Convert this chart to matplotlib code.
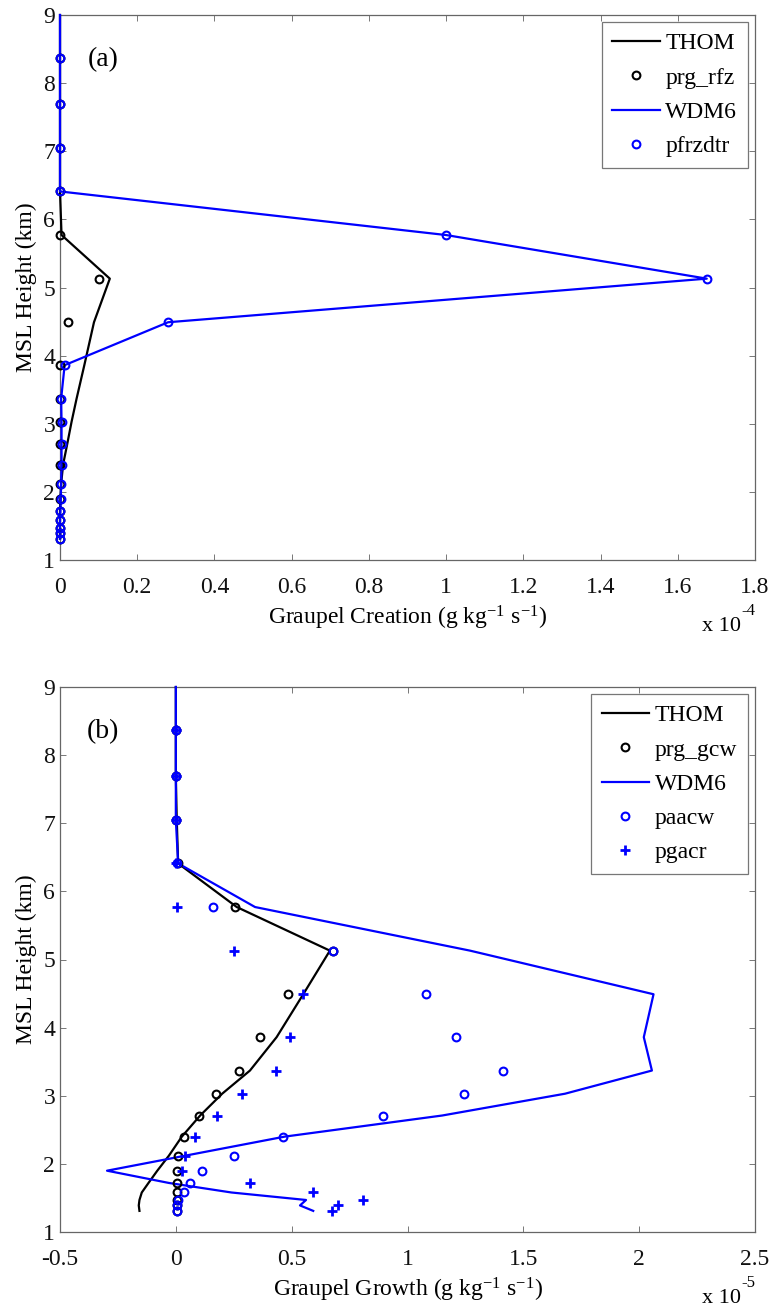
import numpy as np
import matplotlib
matplotlib.use('Agg')
import matplotlib.pyplot as plt

plt.rcParams['font.family'] = 'Liberation Serif'
plt.rcParams['mathtext.fontset'] = 'custom'
plt.rcParams['mathtext.rm'] = 'Liberation Serif'
plt.rcParams['mathtext.it'] = 'Liberation Serif:italic'
plt.rcParams['mathtext.bf'] = 'Liberation Serif:bold'
plt.rcParams['mathtext.default'] = 'rm'

# model levels (km MSL), bottom to top
heights = [1.31, 1.39, 1.47, 1.58, 1.72, 1.90, 2.12, 2.40, 2.71, 3.03,
           3.37, 3.86, 4.49, 5.13, 5.77, 6.41, 7.05, 7.70, 8.37, 9.00]

# (a) graupel creation, x 1e-4 g/kg/s
thom_a = [0, 0, 0, 0, 0, 0.001, 0.003, 0.008, 0.019, 0.030,
          0.043, 0.063, 0.088, 0.129, 0.004, 0, 0, 0, 0, 0]
prg_rfz = [0, 0, 0, 0, 0, 0, 0, 0, 0, 0,
           0, 0, 0.021, 0.100, 0, 0, 0, 0, 0, 0]
wdm6_a = [0, 0, 0, 0, 0.001, 0.002, 0.003, 0.004, 0.004, 0.004,
          0.003, 0.012, 0.280, 1.675, 1.000, 0, 0, 0, 0, 0]
pfrzdtr = [0, 0, 0, 0, 0.001, 0.002, 0.003, 0.004, 0.004, 0.004,
           0.003, 0.012, 0.280, 1.675, 1.000, 0, 0, 0, 0, 0]

# (b) graupel growth, x 1e-5 g/kg/s
thom_b = [-0.157, -0.160, -0.157, -0.147, -0.118, -0.080, -0.030, 0.026, 0.105, 0.200,
          0.320, 0.435, 0.550, 0.665, 0.263, 0.010, 0.004, 0, 0, 0]
prg_gcw = [0.005, 0.005, 0.005, 0.003, 0.003, 0.003, 0.010, 0.036, 0.100, 0.172,
           0.273, 0.363, 0.486, 0.680, 0.256, 0.010, 0, 0, 0, 0]
wdm6_b = [0.593, 0.536, 0.562, 0.240, -0.030, -0.297, 0.040, 0.470, 1.150, 1.680,
          2.055, 2.020, 2.062, 1.270, 0.342, 0.010, 0, 0, 0, 0]
paacw = [0.005, 0.005, 0.011, 0.036, 0.062, 0.112, 0.249, 0.464, 0.895, 1.246,
         1.414, 1.210, 1.079, 0.680, 0.162, 0.005, 0, 0, 0, 0]
pgacr = [0.675, 0.700, 0.809, 0.593, 0.320, 0.026, 0.040, 0.083, 0.177, 0.284,
         0.431, 0.491, 0.550, 0.249, 0.004, 0, 0, 0, 0, 0]

xticks_a = [0, 0.2, 0.4, 0.6, 0.8, 1.0, 1.2, 1.4, 1.6, 1.8]
xticklabels_a = ['0', '0.2', '0.4', '0.6', '0.8', '1', '1.2', '1.4', '1.6', '1.8']
xticks_b = [-0.5, 0, 0.5, 1.0, 1.5, 2.0, 2.5]
xticklabels_b = ['-0.5', '0', '0.5', '1', '1.5', '2', '2.5']
yticks = [1, 2, 3, 4, 5, 6, 7, 8, 9]

z = np.array(heights)
inside = z < 9  # no markers on the top boundary level

FS = 17
W, H = 774, 1310
fig = plt.figure(figsize=(W / 100, H / 100), dpi=100)
ax_a = fig.add_axes([60 / W, 1 - 560 / H, 695 / W, 545 / H])
ax_b = fig.add_axes([60 / W, 1 - 1232 / H, 695 / W, 545 / H])


def circles(ax, x, color, label):
    x = np.array(x)
    ax.plot(x[inside], z[inside], ls='none', marker='o', ms=5.6, mew=1.5,
            mfc='none', mec=color, label=label, clip_on=False, zorder=4)


def style_axes(ax, xlim, xt, xtl, xlabel, panel, power):
    ax.set_xlim(xlim)
    ax.set_ylim(1, 9)
    ax.set_xticks(xt)
    ax.set_xticklabels(xtl)
    ax.set_yticks(yticks)
    ax.set_yticklabels([str(v) for v in yticks])
    ax.tick_params(axis='both', direction='in', length=4, width=0.7, color='#777777',
                   labelsize=FS, labelcolor='#111111', top=True, right=True)
    ax.tick_params(axis='x', pad=12)
    ax.tick_params(axis='y', pad=3.5)
    for sp in ax.spines.values():
        sp.set_color('#666666')
        sp.set_linewidth(0.9)
    ax.set_xlabel(xlabel, fontsize=FS, va='center')
    ax.xaxis.set_label_coords(0.5, -0.106)
    ax.set_ylabel('MSL Height (km)', fontsize=FS, va='center')
    ax.yaxis.set_label_coords(-0.049, 0.5)
    ax.text(0.062, 0.918, panel, transform=ax.transAxes, fontsize=20,
            ha='center', va='center')
    # MATLAB-style exponent note under the right end of the x axis
    ax.text(0.98, -0.122, 'x 10', transform=ax.transAxes, fontsize=16,
            ha='right', va='center')
    ax.text(0.981, -0.094, power, transform=ax.transAxes, fontsize=12,
            ha='left', va='center')
    leg = ax.legend(loc='upper right', fontsize=FS, numpoints=1, fancybox=False,
                    framealpha=1, edgecolor='#777777', borderpad=0.45,
                    labelspacing=0.54, handlelength=2.0, handletextpad=0.25,
                    borderaxespad=0.3)
    leg.get_frame().set_linewidth(0.9)


# (a) graupel creation
ax_a.plot(thom_a, z, color='k', lw=1.6, label='THOM', clip_on=False, zorder=3)
circles(ax_a, prg_rfz, 'k', 'prg_rfz')
ax_a.plot(wdm6_a, z, color='#0000ff', lw=1.6, label='WDM6', clip_on=False, zorder=3)
circles(ax_a, pfrzdtr, '#0000ff', 'pfrzdtr')
style_axes(ax_a, (0, 1.8), xticks_a, xticklabels_a,
           r'Graupel Creation (g kg$^{\mathregular{-1}}$ s$^{\mathregular{-1}}$)', '(a)', '-4')

# (b) graupel growth
ax_b.plot(thom_b, z, color='k', lw=1.6, label='THOM', clip_on=False, zorder=3)
circles(ax_b, prg_gcw, 'k', 'prg_gcw')
ax_b.plot(wdm6_b, z, color='#0000ff', lw=1.6, label='WDM6', clip_on=False, zorder=3)
circles(ax_b, paacw, '#0000ff', 'paacw')
pg = np.array(pgacr)
ax_b.plot(pg[inside], z[inside], ls='none', marker='+', ms=7, mew=2.0,
          color='#0000ff', label='pgacr', clip_on=False, zorder=4)
style_axes(ax_b, (-0.5, 2.5), xticks_b, xticklabels_b,
           r'Graupel Growth (g kg$^{\mathregular{-1}}$ s$^{\mathregular{-1}}$)', '(b)', '-5')

fig.savefig('out.png', dpi=100)
